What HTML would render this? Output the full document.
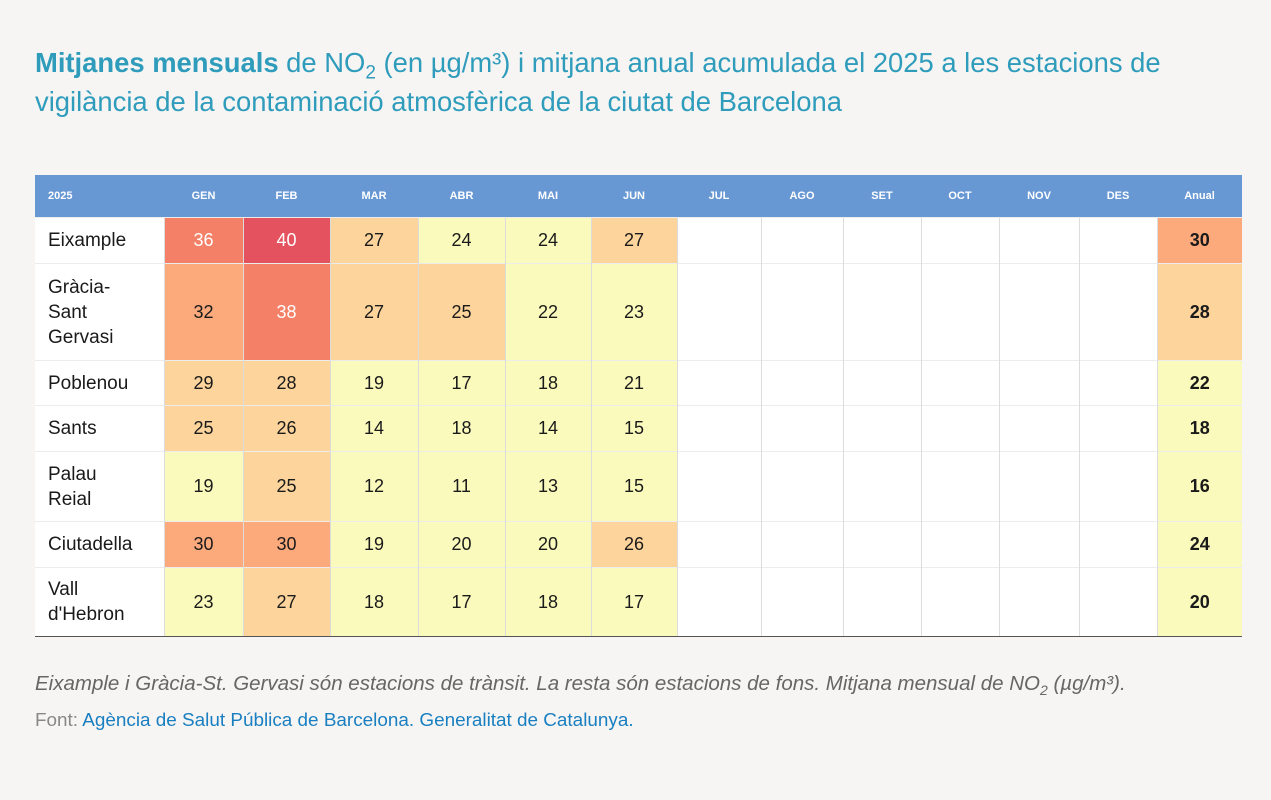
<!DOCTYPE html>
<html><head><meta charset="utf-8"><style>
body{margin:0;width:1271px;height:800px;background:#f6f5f3;font-family:"Liberation Sans",sans-serif;position:relative;overflow:hidden}
.t{position:absolute;left:35px;top:43px;width:1190px;font-size:27.4px;line-height:39px;color:#2f9cbc}
.t b{font-weight:bold}
sub{line-height:0}
table{position:absolute;left:35px;top:175px;border-collapse:collapse;table-layout:fixed;width:1207px;font-size:18px;color:#1a1a1a}
th{background:#6898d4;color:#fff;font-size:11px;font-weight:bold;height:42px;padding:0;text-align:center}
th.f{text-align:left;padding-left:13px}
td{padding:0;text-align:center;background:#fff;border-left:1px solid #dcdcdc;border-top:1px solid #ececec}
td.n{text-align:left;padding-left:13px;border-left:none;line-height:25px;font-size:19px}
td.a{font-weight:bold}
tr:last-child td{border-bottom:1px solid #555}
.r{background:#e4525f;color:#fff}.s{background:#f48067;color:#fff}.o{background:#fcaa7c}.p{background:#fdd49b}.y{background:#fbfabd}
.foot{position:absolute;left:35px;top:672px;font-size:20.5px;font-style:italic;color:#666}
.src{position:absolute;left:35px;top:710px;font-size:18.9px;color:#888}
.src span{color:#1a7fc1}
</style></head><body>
<div class="t"><b>Mitjanes mensuals</b> de NO<sub style="font-size:19px">2</sub> (en µg/m³) i mitjana anual acumulada el 2025 a les estacions de vigilància de la contaminació atmosfèrica de la ciutat de Barcelona</div>
<table>
<colgroup><col style="width:129px"><col style="width:79px"><col style="width:87px"><col style="width:88px"><col style="width:87px"><col style="width:86px"><col style="width:86px"><col style="width:84px"><col style="width:82px"><col style="width:78px"><col style="width:78px"><col style="width:80px"><col style="width:78px"><col style="width:85px"></colgroup>
<tr><th class="f">2025</th><th>GEN</th><th>FEB</th><th>MAR</th><th>ABR</th><th>MAI</th><th>JUN</th><th>JUL</th><th>AGO</th><th>SET</th><th>OCT</th><th>NOV</th><th>DES</th><th>Anual</th></tr>
<tr style="height:46px"><td class="n">Eixample</td><td class="s">36</td><td class="r">40</td><td class="p">27</td><td class="y">24</td><td class="y">24</td><td class="p">27</td><td></td><td></td><td></td><td></td><td></td><td></td><td class="a o">30</td></tr>
<tr style="height:97px"><td class="n">Gràcia-<br>Sant<br>Gervasi</td><td class="o">32</td><td class="s">38</td><td class="p">27</td><td class="p">25</td><td class="y">22</td><td class="y">23</td><td></td><td></td><td></td><td></td><td></td><td></td><td class="a p">28</td></tr>
<tr style="height:45px"><td class="n">Poblenou</td><td class="p">29</td><td class="p">28</td><td class="y">19</td><td class="y">17</td><td class="y">18</td><td class="y">21</td><td></td><td></td><td></td><td></td><td></td><td></td><td class="a y">22</td></tr>
<tr style="height:46px"><td class="n">Sants</td><td class="p">25</td><td class="p">26</td><td class="y">14</td><td class="y">18</td><td class="y">14</td><td class="y">15</td><td></td><td></td><td></td><td></td><td></td><td></td><td class="a y">18</td></tr>
<tr style="height:70px"><td class="n">Palau<br>Reial</td><td class="y">19</td><td class="p">25</td><td class="y">12</td><td class="y">11</td><td class="y">13</td><td class="y">15</td><td></td><td></td><td></td><td></td><td></td><td></td><td class="a y">16</td></tr>
<tr style="height:46px"><td class="n">Ciutadella</td><td class="o">30</td><td class="o">30</td><td class="y">19</td><td class="y">20</td><td class="y">20</td><td class="p">26</td><td></td><td></td><td></td><td></td><td></td><td></td><td class="a y">24</td></tr>
<tr style="height:69px"><td class="n">Vall<br>d'Hebron</td><td class="y">23</td><td class="p">27</td><td class="y">18</td><td class="y">17</td><td class="y">18</td><td class="y">17</td><td></td><td></td><td></td><td></td><td></td><td></td><td class="a y">20</td></tr>
</table>
<div class="foot">Eixample i Gràcia-St. Gervasi són estacions de trànsit. La resta són estacions de fons. Mitjana mensual de NO<sub style="font-size:14px">2</sub> (µg/m³).</div>
<div class="src">Font: <span>Agència de Salut Pública de Barcelona. Generalitat de Catalunya.</span></div>
</body></html>
